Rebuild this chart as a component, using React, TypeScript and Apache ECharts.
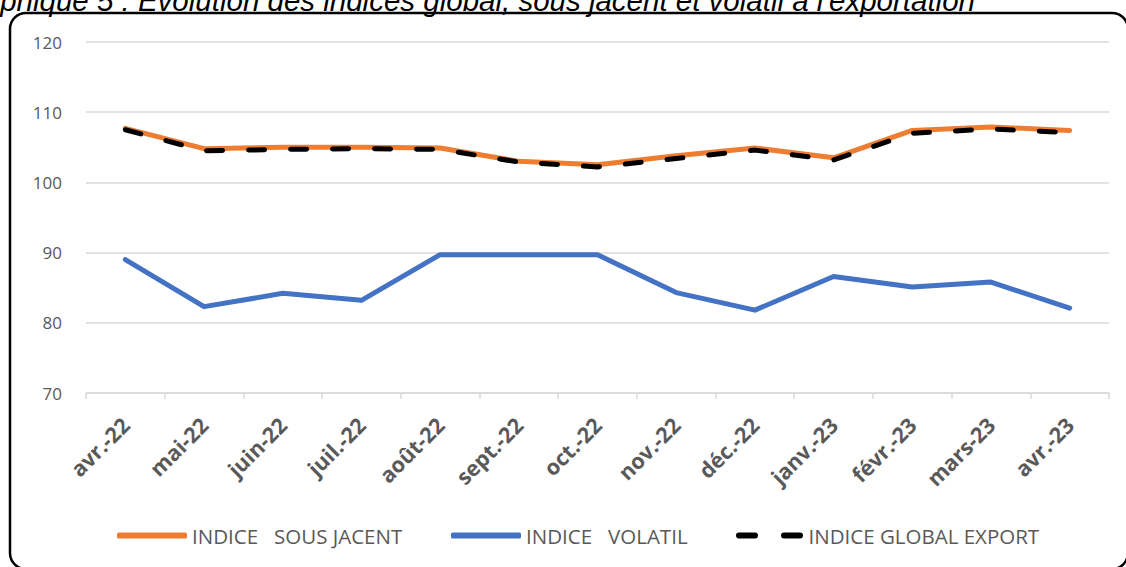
import React, { useEffect, useRef } from "react";
import * as echarts from "echarts";

const categories = [
  "avr.-22", "mai-22", "juin-22", "juil.-22", "août-22", "sept.-22", "oct.-22",
  "nov.-22", "déc.-22", "janv.-23", "févr.-23", "mars-23", "avr.-23",
];
const sousJacent = [107.7, 104.8, 105.0, 105.0, 104.9, 103.0, 102.5, 103.8, 104.9, 103.5, 107.4, 107.9, 107.4];
const volatil = [89.0, 82.3, 84.2, 83.2, 89.7, 89.7, 89.7, 84.3, 81.8, 86.6, 85.1, 85.8, 82.1];
const globalExport = [107.5, 104.5, 104.7, 104.8, 104.7, 102.9, 102.2, 103.4, 104.6, 103.2, 107.0, 107.6, 107.1];

const seriesNames = ["INDICE   SOUS JACENT", "INDICE   VOLATIL", "INDICE GLOBAL EXPORT"];
const titleText = "Graphique 5 : Évolution des indices global, sous jacent et volatil à l'exportation";

const TITLE_FONT = "'Liberation Sans', Arial, sans-serif";
const FONT = "'Open Sans', 'Noto Sans', sans-serif";
const GRAY = "#595959";

export default function App() {
  const ref = useRef<HTMLDivElement>(null);
  useEffect(() => {
    if (!ref.current) return;
    const chart = echarts.init(ref.current, null, { renderer: "svg" });
    const legendBase = {
      orient: "horizontal",
      top: 520,
      itemWidth: 70,
      itemHeight: 6,
      itemGap: 5,
      selectedMode: false,
      textStyle: { color: GRAY, fontSize: 20.5, fontFamily: FONT },
    };
    chart.setOption({
      animation: false,
      backgroundColor: "#ffffff",
      graphic: [
        {
          type: "rect",
          shape: { x: 10, y: 13, width: 1118, height: 556, r: 16 },
          style: { fill: "none", stroke: "#000000", lineWidth: 2.5 },
          z: 100,
        },
        {
          type: "text",
          x: 975,
          y: 0,
          style: {
            text: titleText,
            fontFamily: TITLE_FONT,
            fontSize: 29.5,
            fontStyle: "italic",
            fill: "#000000",
            textAlign: "right",
            textVerticalAlign: "middle",
          },
        },
      ],
      legend: [
        { ...legendBase, left: 112, icon: "roundRect", data: [{ name: seriesNames[0], itemStyle: { color: "#ED7D31" } }] },
        { ...legendBase, left: 446, icon: "roundRect", data: [{ name: seriesNames[1], itemStyle: { color: "#4472C4" } }] },
        {
          ...legendBase,
          left: 731,
          itemWidth: 68,
          icon: "path://M3,0H19A3,3 0 0 1 19,6H3A3,3 0 0 1 3,0Z M48,0H64A3,3 0 0 1 64,6H48A3,3 0 0 1 48,0Z",
          data: [{ name: seriesNames[2], itemStyle: { color: "#000000" } }],
        },
      ],
      grid: { left: 86, right: 17, top: 42, bottom: 174, containLabel: false },
      xAxis: {
        type: "category",
        data: categories,
        boundaryGap: true,
        axisLine: { lineStyle: { color: "#d9d9d9", width: 1.5 } },
        axisTick: { show: true, length: 6, lineStyle: { color: "#d9d9d9", width: 1.5 } },
        axisLabel: {
          interval: 0,
          rotate: 45,
          margin: 28,
          color: GRAY,
          fontSize: 21.5,
          fontWeight: "bold",
          fontFamily: FONT,
        },
      },
      yAxis: {
        type: "value",
        min: 70,
        max: 120,
        interval: 10,
        axisLine: { show: false },
        axisTick: { show: false },
        axisLabel: { margin: 24, color: GRAY, fontSize: 17, fontFamily: FONT },
        splitLine: { lineStyle: { color: "#d9d9d9", width: 1.5 } },
      },
      series: [
        {
          name: seriesNames[0],
          type: "line",
          data: sousJacent,
          symbol: "none",
          color: "#ED7D31",
          lineStyle: { color: "#ED7D31", width: 5, cap: "round", join: "round" },
          z: 2,
        },
        {
          name: seriesNames[1],
          type: "line",
          data: volatil,
          symbol: "none",
          color: "#4472C4",
          lineStyle: { color: "#4472C4", width: 5, cap: "round", join: "round" },
          z: 2,
        },
        {
          name: seriesNames[2],
          type: "line",
          data: globalExport,
          symbol: "none",
          color: "#000000",
          lineStyle: { color: "#000000", width: 5, type: [16, 26], cap: "round", join: "round" },
          z: 3,
        },
      ],
    });
    return () => chart.dispose();
  }, []);
  return (
    <div
      ref={ref}
      style={{ position: "absolute", left: 0, top: 0, width: 1126, height: 567 }}
    />
  );
}
